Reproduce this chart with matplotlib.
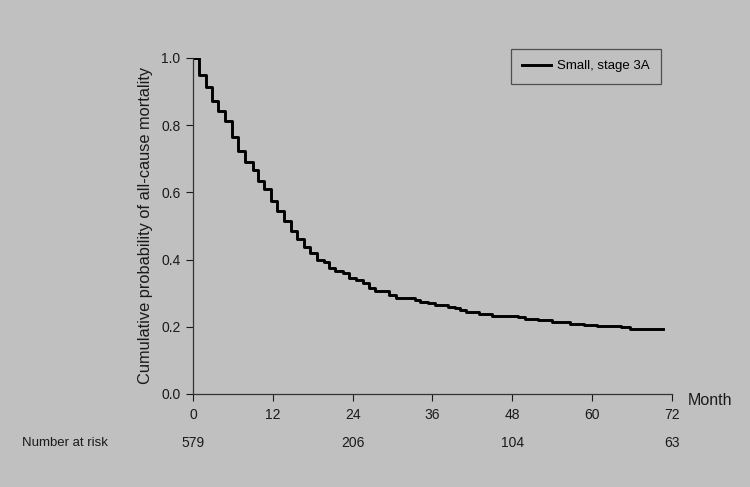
import numpy as np
import matplotlib.pyplot as plt

plt.rcParams['font.family'] = ['Liberation Sans', 'DejaVu Sans']

# Kaplan-Meier style step curve
months = [0, 0.9, 2.0, 2.9, 3.8, 4.8, 5.9, 6.8, 7.8, 9.0, 9.8, 10.7, 11.7, 12.6,
          13.7, 14.7, 15.6, 16.7, 17.6, 18.6, 19.7, 20.5, 21.3, 22.6, 23.5, 24.5,
          25.5, 26.5, 27.4, 29.4, 30.5, 33.4, 34.1, 35.4, 36.4, 38.4, 39.4, 40.1,
          41.1, 43.0, 44.9, 48.9, 49.9, 51.9, 53.9, 56.7, 58.7, 60.7, 64.4, 65.7,
          66.7, 70.6]
mortality = [1.0, 0.95, 0.914, 0.872, 0.842, 0.812, 0.765, 0.723, 0.69, 0.667,
             0.634, 0.61, 0.574, 0.545, 0.515, 0.485, 0.461, 0.4375, 0.42, 0.40,
             0.394, 0.376, 0.367, 0.359, 0.344, 0.339, 0.329, 0.315, 0.305, 0.295,
             0.287, 0.280, 0.275, 0.270, 0.265, 0.260, 0.255, 0.25, 0.245, 0.237,
             0.233, 0.228, 0.224, 0.220, 0.213, 0.208, 0.205, 0.202, 0.198, 0.194,
             0.192, 0.192]

xticks = [0, 12, 24, 36, 48, 60, 72]
yticks = [0.0, 0.2, 0.4, 0.6, 0.8, 1.0]
risk_months = [0, 24, 48, 72]
risk_counts = [579, 206, 104, 63]
series_label = 'Small, stage 3A'

bg = '#c0c0c0'
fg = '#1a1a1a'

fig = plt.figure(figsize=(7.5, 4.87), dpi=100, facecolor=bg)
ax = fig.add_axes([0.2573, 0.191, 0.6387, 0.690])
ax.set_facecolor(bg)

ax.step(months, mortality, where='post', color='black', linewidth=2.1,
        label=series_label)

ax.set_xlim(0, 72)
ax.set_ylim(0, 1.0)
ax.set_xticks(xticks)
ax.set_yticks(yticks)
ax.set_yticklabels([f'{v:.1f}' for v in yticks])
ax.tick_params(direction='out', length=5, width=0.8, colors=fg, labelsize=10)
ax.tick_params(axis='x', pad=5)
ax.tick_params(axis='y', pad=4)

# only left and bottom axis lines
for s in ['top', 'right']:
    ax.spines[s].set_visible(False)
for s in ['left', 'bottom']:
    ax.spines[s].set_color('#333333')
    ax.spines[s].set_linewidth(0.9)

fig.text(0.194, 0.538, 'Cumulative probability of all-cause mortality',
         rotation=90, ha='center', va='center', fontsize=11.8, color=fg)

ax.text(1.033, -0.018, 'Month', transform=ax.transAxes, ha='left', va='center',
        fontsize=11.5, color=fg)

# number at risk row under the x axis
fig.text(0.029, 0.09, 'Number at risk', ha='left', va='center',
         fontsize=9.5, color=fg)
for m, n in zip(risk_months, risk_counts):
    ax.text(m, -0.146, str(n), transform=ax.get_xaxis_transform(),
            ha='center', va='center', fontsize=10, color=fg)

leg = ax.legend(loc='upper right', bbox_to_anchor=(0.977, 1.027),
                borderaxespad=0, fancybox=False, fontsize=9.5,
                handlelength=2.2, borderpad=0.85, handletextpad=0.45)
leg.get_frame().set_facecolor(bg)
leg.get_frame().set_edgecolor('#333333')
leg.get_frame().set_linewidth(0.9)

fig.savefig('out.png', dpi=100, facecolor=bg)
